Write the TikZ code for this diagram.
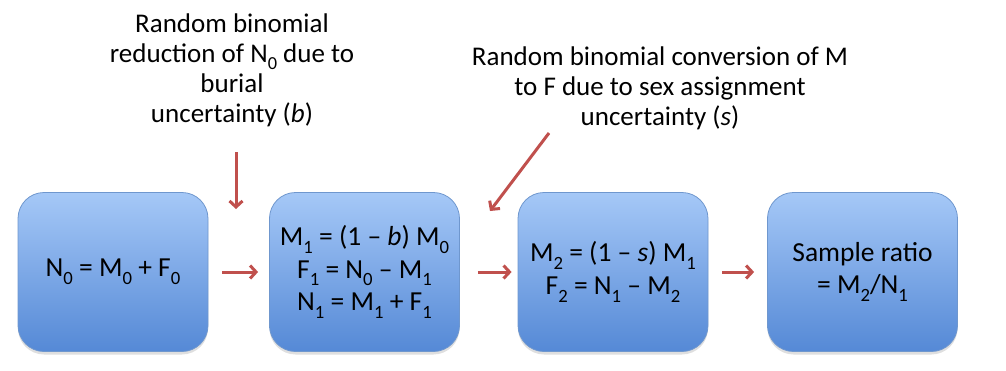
\documentclass[tikz,border=0pt]{standalone}
\usepackage{fontspec}
\setmainfont{Carlito}
\usetikzlibrary{arrows.meta,shadows}
\newcommand{\lo}[1]{\raisebox{-0.28em}{\scalebox{0.68}{#1}}}
\definecolor{boxtop}{HTML}{A5C8F7}
\definecolor{boxbot}{HTML}{5589D6}
\definecolor{boxline}{HTML}{6F97CE}
\definecolor{arr}{HTML}{C0504D}
\begin{document}
\begin{tikzpicture}[x=1pt,y=-1pt,
  box/.style={rounded corners=26pt, minimum width=190pt, minimum height=159pt,
    top color=boxtop, bottom color=boxbot, draw=boxline, line width=0.8pt,
    align=center, font=\fontsize{27.5}{32.5}\selectfont,
    drop shadow={opacity=0.25, shadow xshift=0pt, shadow yshift=-3pt}},
  lab/.style={align=center, font=\fontsize{27}{30}\selectfont},
  con/.style={draw=arr, line width=3pt, -{Straight Barb[length=6pt,width=13pt]}}]
\useasboundingbox (0,0) rectangle (1006,370);
\node[box] (b1) at (113,272) {N\lo{0} = M\lo{0} + F\lo{0}};
\node[box] (b2) at (364.5,272) {M\lo{1} = (1 -- \textit{b}) M\lo{0}\\F\lo{1} = N\lo{0} -- M\lo{1}\\N\lo{1} = M\lo{1} + F\lo{1}};
\node[box] (b3) at (613,272) {M\lo{2} = (1 -- \textit{s}) M\lo{1}\\F\lo{2} = N\lo{1} -- M\lo{2}};
\node[box] (b4) at (862.5,272) {Sample ratio\\= M\lo{2}/N\lo{1}};
\node[lab] (l1) at (232,70) {Random binomial\\reduction of N\lo{0} due to\\burial\\uncertainty (\textit{b})};
\node[lab] (l2) at (660,88) {Random binomial conversion of M\\to F due to sex assignment\\uncertainty (\textit{s})};
\draw[con, shorten <=14pt, shorten >=11pt] (b1.east) -- (b2.west);
\draw[con, shorten <=18pt, shorten >=6pt] (b2.east) -- (b3.west);
\draw[con, shorten <=14pt, shorten >=13pt] (b3.east) -- (b4.west);
\coordinate (s1) at (236,152);
\coordinate (e1) at (236,209);
\draw[con] (s1) -- (e1);
\coordinate (s2) at (549,133);
\coordinate (e2) at (490,211);
\draw[con] (s2) -- (e2);
\end{tikzpicture}
\end{document}
